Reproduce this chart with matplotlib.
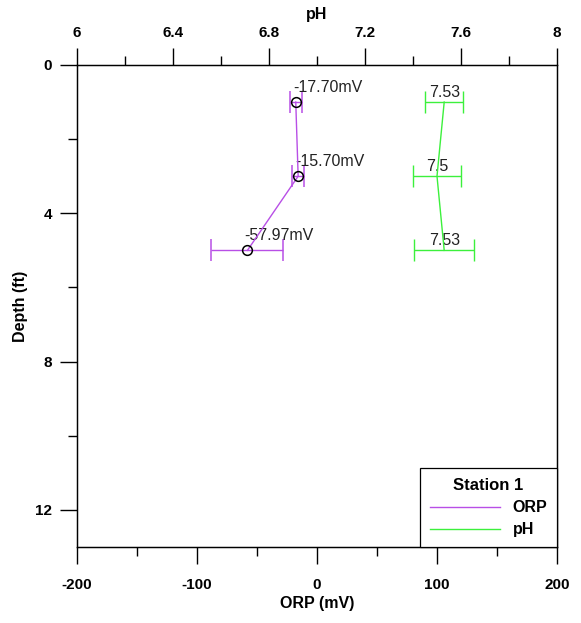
import numpy as np
import matplotlib.pyplot as plt

plt.rcParams['font.family'] = ['Liberation Sans', 'DejaVu Sans']
plt.rcParams['axes.unicode_minus'] = False

# data
depth = [1, 3, 5]
orp = [-17.70, -15.70, -57.97]
orp_err = [5, 5, 30]
ph = [7.53, 7.50, 7.53]
ph_err = [0.08, 0.10, 0.125]

orp_col = '#b84fe6'
ph_col = '#3cf03c'

fig = plt.figure(figsize=(5.81, 6.23), dpi=100)
ax = fig.add_axes([0.1325, 0.122, 0.8262, 0.7737])

ax.errorbar(orp, depth, xerr=orp_err, color=orp_col, lw=1, capsize=8,
            elinewidth=1, marker='o', mfc='none', mec='black', ms=7, mew=1.1,
            label='ORP', zorder=3)
for x, y in zip(orp, depth):
    ax.annotate('%.2fmV' % x, (x, y), xytext=(-2, 5), textcoords='offset points',
                ha='left', va='bottom', fontsize=11.5, color='#222222')

ax.set_xlim(-200, 200)
ax.set_ylim(13, 0)
ax.set_xticks([-200, -100, 0, 100, 200])
ax.set_xticks([-150, -50, 50, 150], minor=True)
ax.set_yticks([0, 4, 8, 12])
ax.set_yticks([2, 6, 10], minor=True)
ax.tick_params(which='major', direction='out', length=12, width=1, labelsize=11, pad=10)
ax.tick_params(which='minor', direction='out', length=6.5, width=1)
ax.tick_params(axis='y', which='major', pad=6)
for lab in ax.get_xticklabels() + ax.get_yticklabels():
    lab.set_fontweight('bold')
ax.set_xlabel('ORP (mV)', fontsize=11.5, fontweight='bold', labelpad=3)
ax.set_ylabel('Depth (ft)', fontsize=11.5, fontweight='bold', labelpad=5)

top = ax.twiny()
top.errorbar(ph, depth, xerr=ph_err, color=ph_col, lw=1, capsize=8,
             elinewidth=1, label='pH', zorder=3)
for x, y in zip(ph, depth):
    top.annotate('%g' % x, (x, y), xytext=(0, 1.5), textcoords='offset points',
                 ha='center', va='bottom', fontsize=11.5, color='#222222')
top.set_xlim(6, 8)
top.set_xticks([6, 6.4, 6.8, 7.2, 7.6, 8])
top.set_xticklabels(['6', '6.4', '6.8', '7.2', '7.6', '8'])
top.set_xticks([6.2, 6.6, 7.0, 7.4, 7.8], minor=True)
top.tick_params(which='major', direction='out', length=12, width=1, labelsize=11, pad=6)
top.tick_params(which='minor', direction='out', length=6.5, width=1)
for lab in top.get_xticklabels():
    lab.set_fontweight('bold')
top.set_xlabel('pH', fontsize=11.5, fontweight='bold', labelpad=5)

for a in (ax, top):
    for s in a.spines.values():
        s.set_linewidth(0.9)

handles = [plt.Line2D([], [], color=orp_col, lw=1), plt.Line2D([], [], color=ph_col, lw=1)]
leg = top.legend(handles, ['ORP', 'pH'], title='Station 1', loc='lower right',
                 borderaxespad=0, fancybox=False, edgecolor='black', framealpha=1,
                 handlelength=4.4, handletextpad=0.8, labelspacing=0.45,
                 borderpad=0.6, prop={'weight': 'bold', 'size': 11.5})
leg.get_title().set_fontweight('bold')
leg.get_title().set_fontsize(12)
leg.get_frame().set_linewidth(0.9)

fig.savefig('out.png', dpi=100)
